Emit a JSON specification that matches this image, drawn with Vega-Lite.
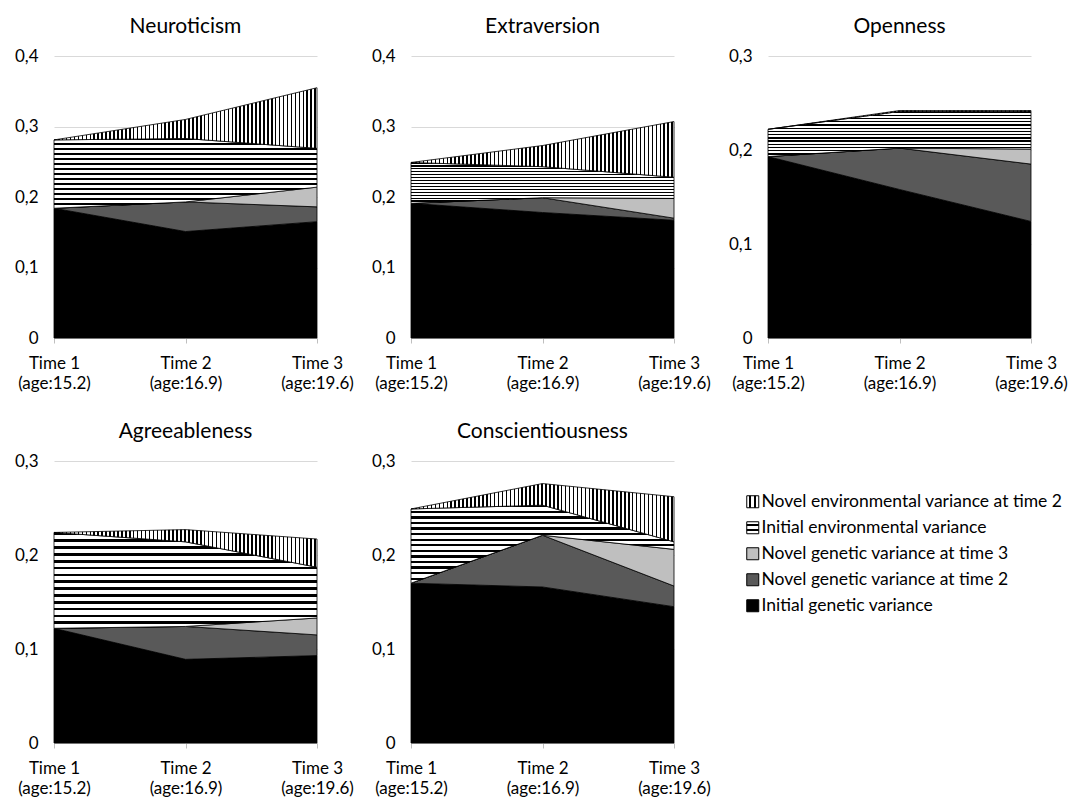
{
  "$schema": "https://vega.github.io/schema/vega-lite/v6.json",
  "background": "white",
  "padding": {"left": 14, "top": 16, "right": 5, "bottom": 5},
  "data": {
    "values": [
      {"trait": "Neuroticism", "time": "Time 1", "IG": 0.184, "NG2": 0, "NG3": 0, "IE": 0.097, "NE2": 0},
      {"trait": "Neuroticism", "time": "Time 2", "IG": 0.151, "NG2": 0.042, "NG3": 0, "IE": 0.090, "NE2": 0.027},
      {"trait": "Neuroticism", "time": "Time 3", "IG": 0.165, "NG2": 0.021, "NG3": 0.028, "IE": 0.055, "NE2": 0.086},
      {"trait": "Extraversion", "time": "Time 1", "IG": 0.191, "NG2": 0, "NG3": 0, "IE": 0.058, "NE2": 0},
      {"trait": "Extraversion", "time": "Time 2", "IG": 0.178, "NG2": 0.021, "NG3": 0, "IE": 0.044, "NE2": 0.030},
      {"trait": "Extraversion", "time": "Time 3", "IG": 0.167, "NG2": 0.003, "NG3": 0.028, "IE": 0.030, "NE2": 0.079},
      {"trait": "Openness", "time": "Time 1", "IG": 0.193, "NG2": 0, "NG3": 0, "IE": 0.029, "NE2": 0},
      {"trait": "Openness", "time": "Time 2", "IG": 0.158, "NG2": 0.044, "NG3": 0, "IE": 0.039, "NE2": 0.001},
      {"trait": "Openness", "time": "Time 3", "IG": 0.124, "NG2": 0.061, "NG3": 0.016, "IE": 0.040, "NE2": 0.001},
      {"trait": "Agreeableness", "time": "Time 1", "IG": 0.122, "NG2": 0, "NG3": 0, "IE": 0.102, "NE2": 0},
      {"trait": "Agreeableness", "time": "Time 2", "IG": 0.089, "NG2": 0.035, "NG3": 0, "IE": 0.090, "NE2": 0.013},
      {"trait": "Agreeableness", "time": "Time 3", "IG": 0.093, "NG2": 0.022, "NG3": 0.018, "IE": 0.054, "NE2": 0.030},
      {"trait": "Conscientiousness", "time": "Time 1", "IG": 0.170, "NG2": 0, "NG3": 0, "IE": 0.079, "NE2": 0},
      {"trait": "Conscientiousness", "time": "Time 2", "IG": 0.166, "NG2": 0.055, "NG3": 0, "IE": 0.032, "NE2": 0.023},
      {"trait": "Conscientiousness", "time": "Time 3", "IG": 0.145, "NG2": 0.022, "NG3": 0.039, "IE": 0.008, "NE2": 0.048}
    ]
  },
  "transform": [
    {"fold": ["IG", "NG2", "NG3", "IE", "NE2"], "as": ["component", "value"]},
    {"calculate": "indexof(['IG','NG2','NG3','IE','NE2'], datum.component)", "as": "k"},
    {"stack": "value", "groupby": ["trait", "time"], "sort": [{"field": "k", "order": "ascending"}], "as": ["v0", "v1"]}
  ],
  "facet": {
    "field": "trait",
    "type": "nominal",
    "sort": ["Neuroticism", "Extraversion", "Openness", "Agreeableness", "Conscientiousness"],
    "header": {"title": null, "labelFont": "Lato", "labelFontSize": 21, "labelFontWeight": "normal", "labelColor": "#000", "labelPadding": 10}
  },
  "columns": 3,
  "spacing": {"row": 123, "column": 94},
  "bounds": "flush",
  "spec": {
    "width": 263,
    "height": 282,
    "encoding": {
      "x": {
        "field": "time", "type": "ordinal",
        "scale": {"type": "point", "padding": 0},
        "axis": {
          "title": null, "labelAngle": 0, "labelAlign": "center", "labelFont": "Lato", "labelFontSize": 17,
          "labelColor": "#000", "labelLineHeight": 20, "labelPadding": 12, "tickSize": 5, "tickColor": "#bfbfbf",
          "domainColor": "#bfbfbf", "grid": false,
          "labelExpr": "[datum.label, datum.label == 'Time 1' ? '(age:15.2)' : datum.label == 'Time 2' ? '(age:16.9)' : '(age:19.6)']"
        }
      },
      "y": {
        "field": "v1", "type": "quantitative",
        "scale": {"nice": 3},
        "axis": {
          "title": null, "tickCount": 3, "domain": false, "ticks": false, "grid": true, "gridColor": "#d9d9d9",
          "labelFont": "Lato", "labelFontSize": 17, "labelColor": "#000", "labelPadding": 16,
          "labelExpr": "replace(format(datum.value, '.1~f'), '.', ',')"
        }
      },
      "y2": {"field": "v0"}
    },
    "layer": [
      {
        "transform": [{"filter": "datum.k < 3"}],
        "mark": {"type": "area", "stroke": "#000", "strokeWidth": 0.8, "interpolate": "linear", "opacity": 1},
        "encoding": {
          "color": {
            "field": "component", "type": "nominal",
            "scale": {
              "domain": ["NE2", "IE", "NG3", "NG2", "IG"],
              "range": [
                {"expr": "{gradient: 'linear', x1: 0, y1: 0, x2: 1, y2: 0, stops: [{offset: 0, color: '#fff'}, {offset: 0.2, color: '#fff'}, {offset: 0.2, color: '#000'}, {offset: 0.38, color: '#000'}, {offset: 0.38, color: '#fff'}, {offset: 0.62, color: '#fff'}, {offset: 0.62, color: '#000'}, {offset: 0.8, color: '#000'}, {offset: 0.8, color: '#fff'}, {offset: 1, color: '#fff'}]}"},
                {"expr": "{gradient: 'linear', x1: 0, y1: 0, x2: 0, y2: 1, stops: [{offset: 0, color: '#fff'}, {offset: 0.2, color: '#fff'}, {offset: 0.2, color: '#000'}, {offset: 0.38, color: '#000'}, {offset: 0.38, color: '#fff'}, {offset: 0.62, color: '#fff'}, {offset: 0.62, color: '#000'}, {offset: 0.8, color: '#000'}, {offset: 0.8, color: '#fff'}, {offset: 1, color: '#fff'}]}"},
                "#bfbfbf",
                "#595959",
                "#000000"
              ]
            },
            "legend": {
              "title": null, "orient": "none", "legendX": 690, "legendY": 437, "padding": 0,
              "symbolType": "square", "symbolSize": 144, "symbolStrokeColor": "#000", "symbolStrokeWidth": 1, "symbolOpacity": 1,
              "labelFont": "Lato", "labelFontSize": 17.5, "labelColor": "#000", "labelLimit": 400, "labelOffset": 0, "rowPadding": 7,
              "labelExpr": "{'NE2': 'Novel environmental variance at time 2', 'IE': 'Initial environmental variance', 'NG3': 'Novel genetic variance at time 3', 'NG2': 'Novel genetic variance at time 2', 'IG': 'Initial genetic variance'}[datum.label]"
            }
          }
        }
      },
      {
        "transform": [{"filter": "datum.k == 3"}],
        "mark": {
          "type": "area", "stroke": "#000", "strokeWidth": 0.8, "interpolate": "linear",
          "fill": {"gradient": "linear", "x1": 0, "y1": 0, "x2": 0, "y2": 1, "stops": [
            {"offset":0,"color":"#000"},{"offset":0.028,"color":"#000"},{"offset":0.028,"color":"#fff"},{"offset":0.0714,"color":"#fff"},
            {"offset":0.0714,"color":"#000"},{"offset":0.0994,"color":"#000"},{"offset":0.0994,"color":"#fff"},{"offset":0.1429,"color":"#fff"},
            {"offset":0.1429,"color":"#000"},{"offset":0.1709,"color":"#000"},{"offset":0.1709,"color":"#fff"},{"offset":0.2143,"color":"#fff"},
            {"offset":0.2143,"color":"#000"},{"offset":0.2423,"color":"#000"},{"offset":0.2423,"color":"#fff"},{"offset":0.2857,"color":"#fff"},
            {"offset":0.2857,"color":"#000"},{"offset":0.3137,"color":"#000"},{"offset":0.3137,"color":"#fff"},{"offset":0.3571,"color":"#fff"},
            {"offset":0.3571,"color":"#000"},{"offset":0.3851,"color":"#000"},{"offset":0.3851,"color":"#fff"},{"offset":0.4286,"color":"#fff"},
            {"offset":0.4286,"color":"#000"},{"offset":0.4566,"color":"#000"},{"offset":0.4566,"color":"#fff"},{"offset":0.5,"color":"#fff"},
            {"offset":0.5,"color":"#000"},{"offset":0.528,"color":"#000"},{"offset":0.528,"color":"#fff"},{"offset":0.5714,"color":"#fff"},
            {"offset":0.5714,"color":"#000"},{"offset":0.5994,"color":"#000"},{"offset":0.5994,"color":"#fff"},{"offset":0.6429,"color":"#fff"},
            {"offset":0.6429,"color":"#000"},{"offset":0.6709,"color":"#000"},{"offset":0.6709,"color":"#fff"},{"offset":0.7143,"color":"#fff"},
            {"offset":0.7143,"color":"#000"},{"offset":0.7423,"color":"#000"},{"offset":0.7423,"color":"#fff"},{"offset":0.7857,"color":"#fff"},
            {"offset":0.7857,"color":"#000"},{"offset":0.8137,"color":"#000"},{"offset":0.8137,"color":"#fff"},{"offset":0.8571,"color":"#fff"},
            {"offset":0.8571,"color":"#000"},{"offset":0.8851,"color":"#000"},{"offset":0.8851,"color":"#fff"},{"offset":0.9286,"color":"#fff"},
            {"offset":0.9286,"color":"#000"},{"offset":0.9566,"color":"#000"},{"offset":0.9566,"color":"#fff"},{"offset":1,"color":"#fff"}
          ]}
        }
      },
      {
        "transform": [{"filter": "datum.k == 4"}],
        "mark": {
          "type": "area", "stroke": "#000", "strokeWidth": 0.8, "interpolate": "linear",
          "fill": {"gradient": "linear", "x1": 0, "y1": 0, "x2": 1, "y2": 0, "stops": [
            {"offset":0,"color":"#000"},{"offset":0.006,"color":"#000"},{"offset":0.006,"color":"#fff"},{"offset":0.015,"color":"#fff"},
            {"offset":0.015,"color":"#000"},{"offset":0.021,"color":"#000"},{"offset":0.021,"color":"#fff"},{"offset":0.03,"color":"#fff"},
            {"offset":0.03,"color":"#000"},{"offset":0.036,"color":"#000"},{"offset":0.036,"color":"#fff"},{"offset":0.045,"color":"#fff"},
            {"offset":0.045,"color":"#000"},{"offset":0.051,"color":"#000"},{"offset":0.051,"color":"#fff"},{"offset":0.06,"color":"#fff"},
            {"offset":0.06,"color":"#000"},{"offset":0.066,"color":"#000"},{"offset":0.066,"color":"#fff"},{"offset":0.075,"color":"#fff"},
            {"offset":0.075,"color":"#000"},{"offset":0.081,"color":"#000"},{"offset":0.081,"color":"#fff"},{"offset":0.09,"color":"#fff"},
            {"offset":0.09,"color":"#000"},{"offset":0.096,"color":"#000"},{"offset":0.096,"color":"#fff"},{"offset":0.105,"color":"#fff"},
            {"offset":0.105,"color":"#000"},{"offset":0.111,"color":"#000"},{"offset":0.111,"color":"#fff"},{"offset":0.12,"color":"#fff"},
            {"offset":0.12,"color":"#000"},{"offset":0.126,"color":"#000"},{"offset":0.126,"color":"#fff"},{"offset":0.135,"color":"#fff"},
            {"offset":0.135,"color":"#000"},{"offset":0.141,"color":"#000"},{"offset":0.141,"color":"#fff"},{"offset":0.15,"color":"#fff"},
            {"offset":0.15,"color":"#000"},{"offset":0.156,"color":"#000"},{"offset":0.156,"color":"#fff"},{"offset":0.165,"color":"#fff"},
            {"offset":0.165,"color":"#000"},{"offset":0.171,"color":"#000"},{"offset":0.171,"color":"#fff"},{"offset":0.18,"color":"#fff"},
            {"offset":0.18,"color":"#000"},{"offset":0.186,"color":"#000"},{"offset":0.186,"color":"#fff"},{"offset":0.195,"color":"#fff"},
            {"offset":0.195,"color":"#000"},{"offset":0.201,"color":"#000"},{"offset":0.201,"color":"#fff"},{"offset":0.21,"color":"#fff"},
            {"offset":0.21,"color":"#000"},{"offset":0.216,"color":"#000"},{"offset":0.216,"color":"#fff"},{"offset":0.225,"color":"#fff"},
            {"offset":0.225,"color":"#000"},{"offset":0.231,"color":"#000"},{"offset":0.231,"color":"#fff"},{"offset":0.24,"color":"#fff"},
            {"offset":0.24,"color":"#000"},{"offset":0.246,"color":"#000"},{"offset":0.246,"color":"#fff"},{"offset":0.255,"color":"#fff"},
            {"offset":0.255,"color":"#000"},{"offset":0.261,"color":"#000"},{"offset":0.261,"color":"#fff"},{"offset":0.27,"color":"#fff"},
            {"offset":0.27,"color":"#000"},{"offset":0.276,"color":"#000"},{"offset":0.276,"color":"#fff"},{"offset":0.285,"color":"#fff"},
            {"offset":0.285,"color":"#000"},{"offset":0.291,"color":"#000"},{"offset":0.291,"color":"#fff"},{"offset":0.3,"color":"#fff"},
            {"offset":0.3,"color":"#000"},{"offset":0.306,"color":"#000"},{"offset":0.306,"color":"#fff"},{"offset":0.315,"color":"#fff"},
            {"offset":0.315,"color":"#000"},{"offset":0.321,"color":"#000"},{"offset":0.321,"color":"#fff"},{"offset":0.33,"color":"#fff"},
            {"offset":0.33,"color":"#000"},{"offset":0.336,"color":"#000"},{"offset":0.336,"color":"#fff"},{"offset":0.345,"color":"#fff"},
            {"offset":0.345,"color":"#000"},{"offset":0.351,"color":"#000"},{"offset":0.351,"color":"#fff"},{"offset":0.36,"color":"#fff"},
            {"offset":0.36,"color":"#000"},{"offset":0.366,"color":"#000"},{"offset":0.366,"color":"#fff"},{"offset":0.375,"color":"#fff"},
            {"offset":0.375,"color":"#000"},{"offset":0.381,"color":"#000"},{"offset":0.381,"color":"#fff"},{"offset":0.39,"color":"#fff"},
            {"offset":0.39,"color":"#000"},{"offset":0.396,"color":"#000"},{"offset":0.396,"color":"#fff"},{"offset":0.405,"color":"#fff"},
            {"offset":0.405,"color":"#000"},{"offset":0.411,"color":"#000"},{"offset":0.411,"color":"#fff"},{"offset":0.42,"color":"#fff"},
            {"offset":0.42,"color":"#000"},{"offset":0.426,"color":"#000"},{"offset":0.426,"color":"#fff"},{"offset":0.435,"color":"#fff"},
            {"offset":0.435,"color":"#000"},{"offset":0.441,"color":"#000"},{"offset":0.441,"color":"#fff"},{"offset":0.45,"color":"#fff"},
            {"offset":0.45,"color":"#000"},{"offset":0.456,"color":"#000"},{"offset":0.456,"color":"#fff"},{"offset":0.465,"color":"#fff"},
            {"offset":0.465,"color":"#000"},{"offset":0.471,"color":"#000"},{"offset":0.471,"color":"#fff"},{"offset":0.48,"color":"#fff"},
            {"offset":0.48,"color":"#000"},{"offset":0.486,"color":"#000"},{"offset":0.486,"color":"#fff"},{"offset":0.495,"color":"#fff"},
            {"offset":0.495,"color":"#000"},{"offset":0.501,"color":"#000"},{"offset":0.501,"color":"#fff"},{"offset":0.51,"color":"#fff"},
            {"offset":0.51,"color":"#000"},{"offset":0.516,"color":"#000"},{"offset":0.516,"color":"#fff"},{"offset":0.525,"color":"#fff"},
            {"offset":0.525,"color":"#000"},{"offset":0.531,"color":"#000"},{"offset":0.531,"color":"#fff"},{"offset":0.54,"color":"#fff"},
            {"offset":0.54,"color":"#000"},{"offset":0.546,"color":"#000"},{"offset":0.546,"color":"#fff"},{"offset":0.555,"color":"#fff"},
            {"offset":0.555,"color":"#000"},{"offset":0.561,"color":"#000"},{"offset":0.561,"color":"#fff"},{"offset":0.57,"color":"#fff"},
            {"offset":0.57,"color":"#000"},{"offset":0.576,"color":"#000"},{"offset":0.576,"color":"#fff"},{"offset":0.585,"color":"#fff"},
            {"offset":0.585,"color":"#000"},{"offset":0.591,"color":"#000"},{"offset":0.591,"color":"#fff"},{"offset":0.6,"color":"#fff"},
            {"offset":0.6,"color":"#000"},{"offset":0.606,"color":"#000"},{"offset":0.606,"color":"#fff"},{"offset":0.615,"color":"#fff"},
            {"offset":0.615,"color":"#000"},{"offset":0.621,"color":"#000"},{"offset":0.621,"color":"#fff"},{"offset":0.63,"color":"#fff"},
            {"offset":0.63,"color":"#000"},{"offset":0.636,"color":"#000"},{"offset":0.636,"color":"#fff"},{"offset":0.645,"color":"#fff"},
            {"offset":0.645,"color":"#000"},{"offset":0.651,"color":"#000"},{"offset":0.651,"color":"#fff"},{"offset":0.66,"color":"#fff"},
            {"offset":0.66,"color":"#000"},{"offset":0.666,"color":"#000"},{"offset":0.666,"color":"#fff"},{"offset":0.675,"color":"#fff"},
            {"offset":0.675,"color":"#000"},{"offset":0.681,"color":"#000"},{"offset":0.681,"color":"#fff"},{"offset":0.69,"color":"#fff"},
            {"offset":0.69,"color":"#000"},{"offset":0.696,"color":"#000"},{"offset":0.696,"color":"#fff"},{"offset":0.705,"color":"#fff"},
            {"offset":0.705,"color":"#000"},{"offset":0.711,"color":"#000"},{"offset":0.711,"color":"#fff"},{"offset":0.72,"color":"#fff"},
            {"offset":0.72,"color":"#000"},{"offset":0.726,"color":"#000"},{"offset":0.726,"color":"#fff"},{"offset":0.735,"color":"#fff"},
            {"offset":0.735,"color":"#000"},{"offset":0.741,"color":"#000"},{"offset":0.741,"color":"#fff"},{"offset":0.75,"color":"#fff"},
            {"offset":0.75,"color":"#000"},{"offset":0.756,"color":"#000"},{"offset":0.756,"color":"#fff"},{"offset":0.765,"color":"#fff"},
            {"offset":0.765,"color":"#000"},{"offset":0.771,"color":"#000"},{"offset":0.771,"color":"#fff"},{"offset":0.78,"color":"#fff"},
            {"offset":0.78,"color":"#000"},{"offset":0.786,"color":"#000"},{"offset":0.786,"color":"#fff"},{"offset":0.795,"color":"#fff"},
            {"offset":0.795,"color":"#000"},{"offset":0.801,"color":"#000"},{"offset":0.801,"color":"#fff"},{"offset":0.81,"color":"#fff"},
            {"offset":0.81,"color":"#000"},{"offset":0.816,"color":"#000"},{"offset":0.816,"color":"#fff"},{"offset":0.825,"color":"#fff"},
            {"offset":0.825,"color":"#000"},{"offset":0.831,"color":"#000"},{"offset":0.831,"color":"#fff"},{"offset":0.84,"color":"#fff"},
            {"offset":0.84,"color":"#000"},{"offset":0.846,"color":"#000"},{"offset":0.846,"color":"#fff"},{"offset":0.855,"color":"#fff"},
            {"offset":0.855,"color":"#000"},{"offset":0.861,"color":"#000"},{"offset":0.861,"color":"#fff"},{"offset":0.87,"color":"#fff"},
            {"offset":0.87,"color":"#000"},{"offset":0.876,"color":"#000"},{"offset":0.876,"color":"#fff"},{"offset":0.885,"color":"#fff"},
            {"offset":0.885,"color":"#000"},{"offset":0.891,"color":"#000"},{"offset":0.891,"color":"#fff"},{"offset":0.9,"color":"#fff"},
            {"offset":0.9,"color":"#000"},{"offset":0.906,"color":"#000"},{"offset":0.906,"color":"#fff"},{"offset":0.915,"color":"#fff"},
            {"offset":0.915,"color":"#000"},{"offset":0.921,"color":"#000"},{"offset":0.921,"color":"#fff"},{"offset":0.93,"color":"#fff"},
            {"offset":0.93,"color":"#000"},{"offset":0.936,"color":"#000"},{"offset":0.936,"color":"#fff"},{"offset":0.945,"color":"#fff"},
            {"offset":0.945,"color":"#000"},{"offset":0.951,"color":"#000"},{"offset":0.951,"color":"#fff"},{"offset":0.96,"color":"#fff"},
            {"offset":0.96,"color":"#000"},{"offset":0.966,"color":"#000"},{"offset":0.966,"color":"#fff"},{"offset":0.975,"color":"#fff"},
            {"offset":0.975,"color":"#000"},{"offset":0.981,"color":"#000"},{"offset":0.981,"color":"#fff"},{"offset":0.99,"color":"#fff"},
            {"offset":0.99,"color":"#000"},{"offset":0.996,"color":"#000"},{"offset":0.996,"color":"#fff"},{"offset":1,"color":"#fff"}
          ]}
        }
      }
    ]
  },
  "resolve": {"scale": {"y": "independent"}, "axis": {"x": "independent"}},
  "config": {
    "font": "Lato",
    "view": {"stroke": null}
  }
}
